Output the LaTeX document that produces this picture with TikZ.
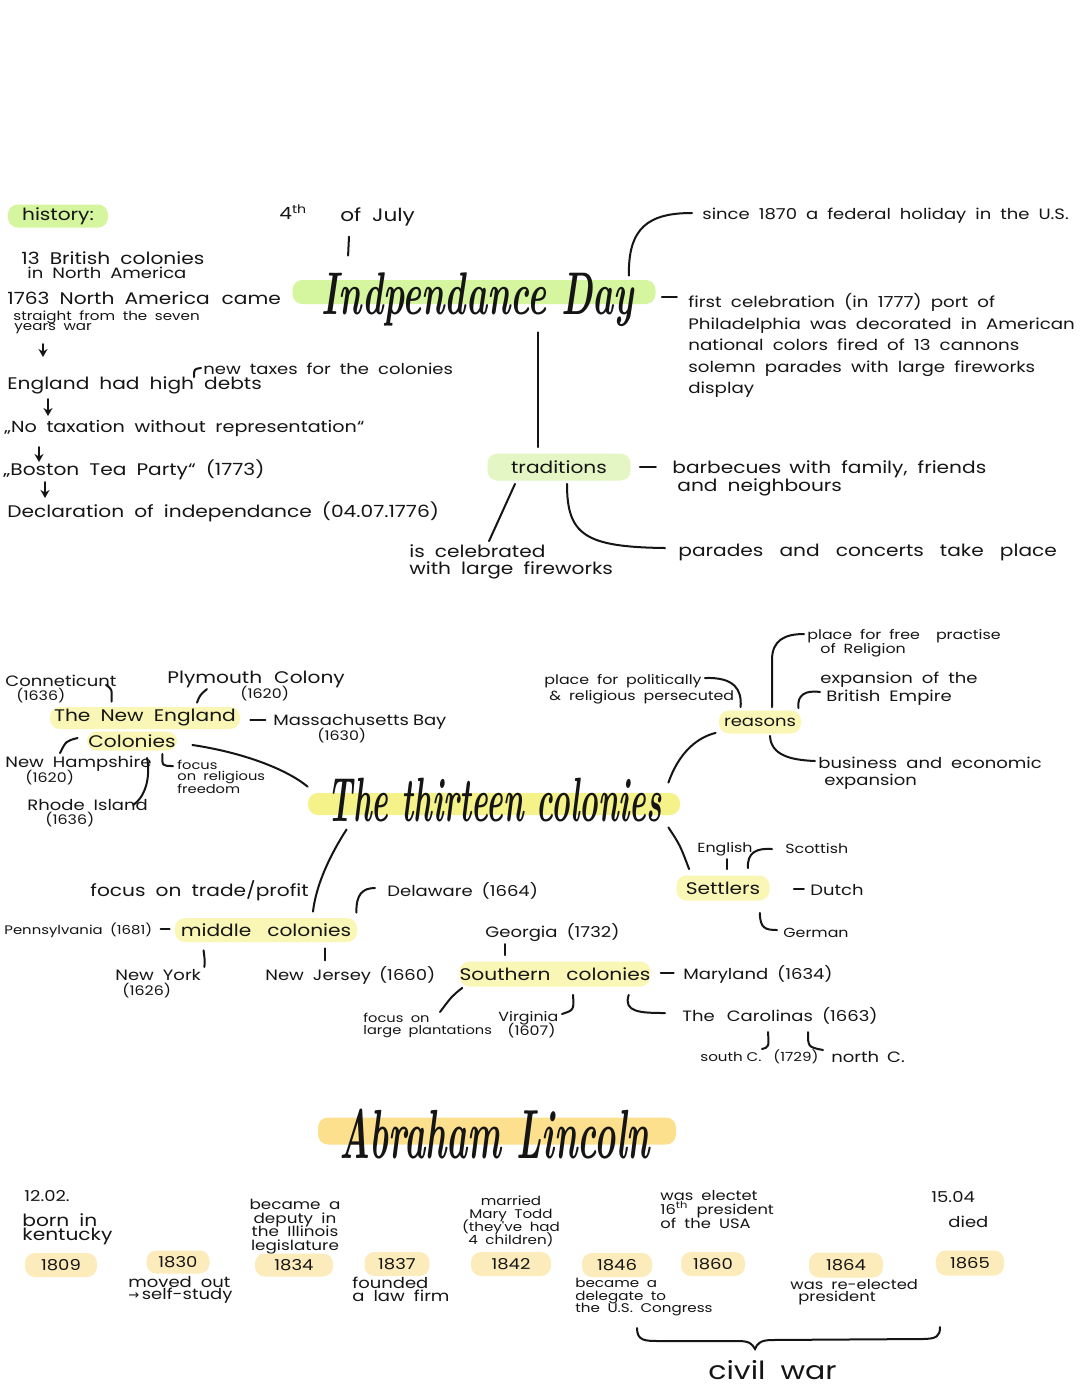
\documentclass[tikz,border=0pt]{standalone}
\usepackage{fontspec}
\usepackage{graphicx}
\usetikzlibrary{arrows.meta,calc}
\newfontfamily\hwfont[FakeStretch=1.2]{Poppins}
\newfontfamily\djv{DejaVu Sans}
\newcommand\hwset[2]{\hwfont\fontsize{#1}{#2}\selectfont\spaceskip=0.6em plus 0.1em\relax\lineskiplimit=-30pt\relax}
\newcommand\fA{\hwset{8.4}{10.75}}
\newcommand\fB{\hwset{7.5}{9}}
\newcommand\fC{\hwset{6.6}{7}}
\newcommand\fSC{\hwfont\fontsize{6.3}{7}\selectfont\spaceskip=0.3em plus 0.1em\relax}
\newcommand\fT{\rmfamily\bfseries\itshape}
\definecolor{ink}{HTML}{151515}
\definecolor{hlgreen}{HTML}{D5F59E}
\definecolor{hlgreenL}{HTML}{E3F6C3}
\definecolor{hlyel}{HTML}{F5F28A}
\definecolor{hlyelL}{HTML}{FAF6B5}
\definecolor{hlorgT}{HTML}{FCE08E}
\definecolor{hlorg}{HTML}{FCEBBB}
\begin{document}
\begin{tikzpicture}[x=0.5pt,y=-0.5pt,
 tA/.style={inner sep=0pt,anchor=west,font=\fA,text=ink},
 tB/.style={inner sep=0pt,anchor=west,font=\fB,text=ink},
 tC/.style={inner sep=0pt,anchor=west,font=\fC,text=ink},
 hl/.style={rounded corners=5pt,inner sep=0pt,font=\fA,text=ink},
 ln/.style={draw=ink,line width=1pt,line cap=round},
 arr/.style={ln,-{Stealth[length=4pt,width=4.5pt]}}]
\fill[white] (0,0) rectangle (1080,1394);
\useasboundingbox (0,0) rectangle (1080,1394);

% ---------------- Independence Day ----------------
\node[hl,fill=hlgreen,minimum width=50pt,minimum height=11.5pt] (hist) at (58,216) {history:};
\node[tA] (fourth) at (279,212) {4\textsuperscript{th}};
\node[tA,font=\hwset{9}{10}] (july) at (340,217) {of July};
\node[hl,fill=hlgreen,minimum width=181.5pt,minimum height=12pt] (ind) at (474,292) {};
\node[inner sep=0pt,text=ink] (indT) at (478,300) {\resizebox*{156pt}{27pt}{\fT Indpendance Day}};

\node[tA] (brit1) at (21,258) {13 British colonies};
\node[tB] (brit2) at (27,273) {in North America};
\node[tA] (came1) at (7,298) {1763 North America\hspace{6pt}came};
\node[tC,font=\hwset{6.3}{7}] (came2) at (13,317) {straight from the seven};
\node[tC,font=\hwset{6.3}{7}] (came3) at (14,329) {years war};
\node[tA] (england) at (7,385) {England had high debts};
\node[tB] (taxes) at (203,369) {new taxes for the colonies};
\node[tA,font=\hwset{8}{10}] (notax) at (4,428) {„No taxation without representation“};
\node[tA] (boston) at (3,470) {„Boston Tea Party“ (1773)};
\node[tA] (decl) at (7,512) {Declaration of independance (04.07.1776)};

\node[tB] (since) at (702,216) {since 1870 a federal holiday in the U.S.};
\node[tA,anchor=north west,align=left,font=\hwset{7.6}{10.75}] (first) at (688,293) {first celebration (in 1777) port of\\Philadelphia was decorated in American\\national colors fired of 13 cannons\\solemn parades with large fireworks\\display};

\node[hl,fill=hlgreenL,minimum width=71.5pt,minimum height=13.5pt] (trad) at (559,467) {traditions};
\node[tA] (barb1) at (672,469) {barbecues\hspace{4pt}with family, friends};
\node[tA] (barb2) at (677,487) {and neighbours};
\node[tA] (cel1) at (409,551) {is celebrated};
\node[tA] (cel2) at (409,570) {with large fireworks};
\node[tA] (parades) at (678,552) {parades\hspace{3pt} and\hspace{3pt} concerts\hspace{3pt} take\hspace{3pt} place};

\draw[ln] ($(july.south west)+(9,10)$) -- ($(ind.north west)+(56,-24)$);
\draw[arr] ($(came3.west)+(29,15)$) -- ($(england.west)+(36,-28)$);
\draw[ln] ($(taxes.west)+(-9,8)$) .. controls ($(taxes.west)+(-9,0)$) .. ($(taxes.west)+(-2,-1)$);
\draw[arr] ($(england.west)+(41,14)$) -- ($(notax.west)+(44,-12)$);
\draw[arr] ($(notax.west)+(35,19)$) -- ($(boston.west)+(36,-8)$);
\draw[arr] ($(boston.west)+(42,12)$) -- ($(decl.west)+(38,-14)$);
\draw[ln] ($(ind.north east)+(-27,-4)$) .. controls (628,228) and (648,213) .. ($(since.west)+(-10,-3)$);
\draw[ln] ($(ind.east)+(6,5)$) -- ($(ind.east)+(21,5)$);
\draw[ln] ($(ind.south)+(64,28)$) -- ($(trad.north)+(-21,-6)$);
\draw[ln] ($(trad.east)+(9,0)$) -- ($(trad.east)+(25,0)$);
\draw[ln] ($(trad.south)+(-44,3)$) -- ($(cel1.north west)+(80,-3)$);
\draw[ln] ($(trad.south)+(8,3)$) .. controls (567,535) and (585,547) .. ($(parades.west)+(-13,-4)$);

% ---------------- Thirteen colonies ----------------
\node[hl,fill=hlyel,minimum width=186pt,minimum height=11pt] (thirteen) at (494,804) {};
\node[inner sep=0pt,text=ink] (thirT) at (495,800) {\resizebox*{167pt}{22pt}{\fT The thirteen colonies}};

\node[tB] (conn) at (5,681) {Conneticunt};
\node[tC] (conny) at (16,696) {(1636)};
\node[tA] (plym) at (167,679) {Plymouth\hspace{6pt}Colony};
\node[tC] (plymy) at (240,694) {(1620)};
\node[hl,fill=hlyelL,minimum width=95pt,minimum height=11pt] (ne1) at (145,718) {The New England};
\node[hl,fill=hlyelL,minimum width=45pt,minimum height=9.5pt] (ne2) at (132,741) {Colonies};
\node[tB] (mass) at (273,722) {Massachusetts\hspace{2pt}Bay};
\node[tC] (massy) at (317,736) {(1630)};
\node[tB] (newh) at (5,764) {New Hampshire};
\node[tC] (newhy) at (25,778) {(1620)};
\node[tB] (rhode) at (27,805) {Rhode Island};
\node[tC] (rhodey) at (45,820) {(1636)};
\node[tC,font=\hwset{6.1}{6}] (rel1) at (177,765) {focus};
\node[tC,font=\hwset{6.1}{6}] (rel2) at (177,777) {on religious};
\node[tC,font=\hwset{6.1}{6}] (rel3) at (177,789) {freedom};

\draw[ln] ($(conn.west)+(101,4)$) .. controls (112,689) .. ($(ne1.north west)+(62,-5)$);
\draw[ln] ($(plym.west)+(40,10)$) .. controls (200,695) .. ($(ne1.north)+(52,-4)$);
\draw[ln] ($(ne1.east)+(10,2)$) -- ($(ne1.east)+(25,2)$);
\draw[ln] ($(ne2.west)+(-9,-3)$) .. controls (66,741) .. ($(newh.west)+(55,-11)$);
\draw[ln] ($(rhode.west)+(106,0)$) .. controls (148,795) and (150,772) .. ($(ne2.south)+(15,7)$);
\draw[ln] ($(ne2.south east)+(-15,3)$) .. controls (162,766) .. ($(rel1.west)+(-4,1)$);
\draw[ln] ($(ne2.east)+(15,4)$) .. controls (240,752) and (285,768) .. ($(thirteen.north west)+(0,-6)$);

\node[hl,fill=hlyelL,minimum width=91pt,minimum height=12pt] (middle) at (266,930) {middle\hspace{8pt}colonies};
\node[tA] (trade) at (90,891) {focus on trade/profit};
\node[tC,font=\hwset{6.2}{7}] (penn) at (4,930) {Pennsylvania (1681)};
\node[tB] (newy) at (115,975) {New York};
\node[tC] (newyy) at (122,991) {(1626)};
\node[tB] (newj) at (265,975) {New Jersey\hspace{4pt}(1660)};
\node[tB] (delaw) at (387,891) {Delaware (1664)};

\draw[ln] ($(thirteen.south west)+(39,14)$) .. controls (330,855) and (316,885) .. ($(middle.north)+(47,-6)$);
\draw[ln] ($(middle.west)+(-14,-1)$) -- ($(middle.west)+(-5,-1)$);
\draw[ln] ($(middle.south west)+(29,8)$) .. controls (205,962) .. ($(newy.east)+(3,-8)$);
\draw[ln] ($(middle.south)+(59,6)$) -- ($(middle.south)+(59,18)$);
\draw[ln] ($(middle.north east)+(-1,-5)$) .. controls (356,895) and (362,888) .. ($(delaw.west)+(-12,-3)$);

\node[tB] (georgia) at (485,933) {Georgia (1732)};
\node[hl,fill=hlyelL,minimum width=90pt,minimum height=12.5pt] (south) at (555,974) {Southern\hspace{8pt}colonies};
\node[tB] (mary) at (683,974) {Maryland (1634)};
\node[tC,font=\hwset{6.1}{7}] (pl1) at (363,1018) {focus on};
\node[tC,font=\hwset{6.1}{7}] (pl2) at (363,1031) {large plantations};
\node[tC] (virg) at (498,1018) {Virginia};
\node[tC] (virgy) at (507,1031) {(1607)};
\node[tB] (caro) at (682,1016) {The\hspace{6pt}Carolinas (1663)};
\node[tC,font=\fSC] (sc) at (700,1057) {south C.\hspace{6pt}(1729)};
\node[tB] (nc) at (831,1057) {north\hspace{4pt}C.};

\draw[ln] ($(south.north west)+(46,-17)$) -- ($(south.north west)+(46,-6)$);
\draw[ln] ($(south.east)+(10,-1)$) -- ($(south.east)+(23,-1)$);
\draw[ln] ($(south.south west)+(3,1)$) .. controls (452,996) .. ($(pl1.west)+(77,-6)$);
\draw[ln] ($(south.south)+(18,8)$) .. controls (574,1010) .. ($(virg.west)+(64,-4)$);
\draw[ln] ($(south.south east)+(-22,8)$) .. controls (623,1012) and (640,1013) .. ($(caro.west)+(-17,-3)$);
\draw[ln] ($(caro.west)+(86,16)$) .. controls (769,1047) .. ($(sc.west)+(62,-8)$);
\draw[ln] ($(caro.west)+(126,16)$) .. controls (808,1047) .. ($(nc.west)+(-8,-7)$);

\node[hl,fill=hlyelL,minimum width=41pt,minimum height=11.5pt,font=\fB] (reasons) at (760,722) {reasons};
\node[tC] (pol1) at (544,681) {place for politically};
\node[tC] (pol2) at (549,697) {\& religious persecuted};
\node[tC] (free1) at (807,636) {place for free\hspace{8pt}practise};
\node[tC] (free2) at (820,650) {of Religion};
\node[tB] (emp1) at (820,680) {expansion of the};
\node[tB] (emp2) at (826,698) {British Empire};
\node[tB] (bus1) at (818,763) {business and economic};
\node[tB] (bus2) at (824,782) {expansion};

\draw[ln] ($(thirteen.north east)+(-12,-10)$) .. controls (678,755) and (695,738) .. ($(reasons.south west)+(-3,-1)$);
\draw[ln] ($(pol1.east)+(3,-3)$) .. controls (735,677) and (742,690) .. ($(reasons.north west)+(22,-3)$);
\draw[ln] ($(reasons.north)+(12,-3)$) -- (772,660) .. controls (772,640) and (785,634) .. ($(free1.west)+(-3,-2)$);
\draw[ln] ($(reasons.north east)+(-3,-2)$) .. controls (797,695) and (805,690) .. ($(emp2.west)+(-6,-6)$);
\draw[ln] ($(reasons.south)+(10,2)$) .. controls (771,755) and (790,760) .. ($(bus1.west)+(-3,-2)$);

\node[hl,fill=hlyelL,minimum width=46.5pt,minimum height=12.5pt] (settlers) at (723,888) {Settlers};
\node[tC] (english) at (697,849) {English};
\node[tC] (scot) at (785,849) {Scottish};
\node[tB] (dutch) at (810,890) {Dutch};
\node[tC] (german) at (783,933) {German};

\draw[ln] ($(thirteen.south east)+(-12,12)$) .. controls (680,845) .. ($(settlers.north west)+(13,-6)$);
\draw[ln] ($(settlers.north)+(4,-16)$) -- ($(settlers.north)+(4,-6)$);
\draw[ln] ($(settlers.north east)+(-22,-7)$) .. controls (747,852) and (757,848) .. ($(scot.west)+(-13,0)$);
\draw[ln] ($(settlers.east)+(24,1)$) -- ($(settlers.east)+(34,1)$);
\draw[ln] ($(settlers.south east)+(-10,12)$) .. controls (760,928) and (765,930) .. ($(german.west)+(-6,-3)$);

% ---------------- Abraham Lincoln ----------------
\node[hl,fill=hlorgT,minimum width=179pt,minimum height=13.5pt] (linc) at (497,1131) {};
\node[inner sep=0pt,text=ink] (lincT) at (495,1134) {\resizebox*{155pt}{25pt}{\fT Abraham Lincoln}};

\node[tB] (b1) at (24,1196) {12.02.};
\node[tA] (b2) at (22,1220) {born in};
\node[tA] (b3) at (22,1236) {kentucky};
\node[hl,fill=hlorg,minimum width=36pt,minimum height=12pt,font=\fB] (d1809) at (61,1265) {1809};
\node[hl,fill=hlorg,minimum width=31.5pt,minimum height=11.5pt,font=\fB] (d1830) at (178,1262) {1830};
\node[tB] (mv1) at (128,1282) {moved out};
\node[tB] (mv2) at (128,1296) {{\djv\fontsize{6.5}{7}\selectfont →}\,self-study};
\node[inner sep=0pt,anchor=north,align=center,text=ink,font=\hwset{7}{6.8}] (dep) at (295,1199) {became a\\deputy in\\the Illinois\\legislature};
\node[hl,fill=hlorg,minimum width=39pt,minimum height=11.5pt,font=\fB] (d1834) at (294,1265) {1834};
\node[hl,fill=hlorg,minimum width=32.5pt,minimum height=12pt,font=\fB] (d1837) at (397,1264) {1837};
\node[tB] (lw1) at (352,1283) {founded};
\node[tB] (lw2) at (352,1296) {a law firm};
\node[inner sep=0pt,anchor=north,align=center,text=ink,font=\hwset{6.3}{6.5}] (mar) at (511,1195) {married\\Mary Todd\\(they've had\\4 children)};
\node[hl,fill=hlorg,minimum width=40pt,minimum height=12pt,font=\fB] (d1842) at (511,1264) {1842};
\node[hl,fill=hlorg,minimum width=35pt,minimum height=12pt,font=\fB] (d1846) at (617,1265) {1846};
\node[inner sep=0pt,anchor=north west,align=left,text=ink,font=\hwset{6.3}{6.3}] (dlg) at (575,1278) {became a\\delegate to\\the U.S. Congress};
\node[inner sep=0pt,anchor=north west,align=left,text=ink,font=\hwset{6.8}{7}] (elec) at (660,1190) {was electet\\16\textsuperscript{th} president\\of the USA};
\node[hl,fill=hlorg,minimum width=32pt,minimum height=12pt,font=\fB] (d1860) at (713,1264) {1860};
\node[hl,fill=hlorg,minimum width=37pt,minimum height=12.5pt,font=\fB] (d1864) at (846,1265) {1864};
\node[tC,font=\hwset{6.8}{7}] (re1) at (790,1285) {was re-elected};
\node[tC,font=\hwset{6.8}{7}] (re2) at (798,1298) {president};
\node[tB] (dd1) at (931,1197) {15.04};
\node[tB] (dd2) at (948,1222) {died};
\node[hl,fill=hlorg,minimum width=34pt,minimum height=12.5pt,font=\fB] (d1865) at (970,1263) {1865};

\draw[ln] (637,1328) .. controls (637,1341) and (645,1341) .. (660,1341) -- (738,1341)
  .. controls (750,1341) and (752,1344) .. (755,1349) .. controls (757,1344) and (760,1340) .. (772,1340)
  -- (922,1339) .. controls (937,1339) and (940,1336) .. (940,1327);
\node[inner sep=0pt,anchor=west,text=ink,font=\hwset{12.5}{13}] (civil) at (708,1370) {civil war};
\end{tikzpicture}
\end{document}
